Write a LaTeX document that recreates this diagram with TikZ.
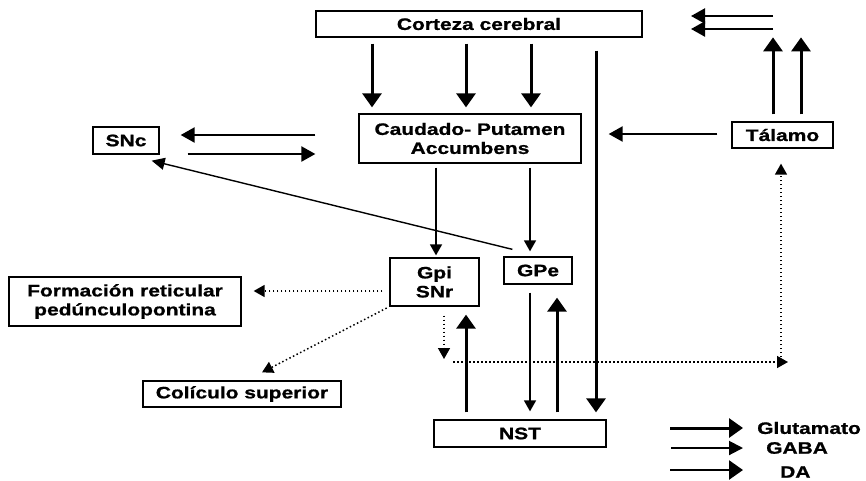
\documentclass[tikz,border=0pt]{standalone}
\usepackage{fontspec}
\setmainfont{Liberation Sans}[FakeStretch=1.27]
\newfontfamily\heavy{Liberation Sans Bold}[FakeStretch=1.27,FakeBold=1]
\usetikzlibrary{arrows.meta}
\begin{document}
\begin{tikzpicture}[x=1pt,y=-1pt,
  box/.style={draw, line width=1.3pt, inner sep=0pt, align=center,
    font=\fontsize{16.5}{19}\selectfont\heavy},
  lbl/.style={inner sep=0pt, anchor=west, font=\fontsize{16.5}{19}\selectfont\heavy},
  glu/.style={line width=3pt, -{Triangle[width=19pt,length=14pt]}},
  gaba/.style={line width=1.6pt, -{Triangle[width=12pt,length=11pt]}},
  da/.style={line width=2.3pt, -{Triangle[width=15pt,length=14pt]}},
  proj/.style={line width=1.5pt, dash pattern=on 1.5pt off 2.5pt,
    -{Triangle[width=12pt,length=11pt]}},
]
\useasboundingbox (0,0) rectangle (866,480);

% structures
\node[box, minimum width=326pt, minimum height=26pt] (cort) at (479,24) {Corteza cerebral};
\node[box, minimum width=222pt, minimum height=49pt] (caud) at (470,138.5) {Caudado- Putamen\\Accumbens};
\node[box, minimum width=66pt, minimum height=27pt] (snc) at (126,140.5) {SNc};
\node[box, minimum width=101pt, minimum height=26pt] (tal) at (782.5,135) {Tálamo};
\node[box, minimum width=89pt, minimum height=48pt] (gpi) at (434.5,282) {Gpi\\SNr};
\node[box, minimum width=68pt, minimum height=27pt] (gpe) at (538,270.5) {GPe};
\node[box, minimum width=172pt, minimum height=27pt] (nst) at (520,433.5) {NST};
\node[box, minimum width=232pt, minimum height=49pt] (form) at (125,301.5) {Formación reticular\\pedúnculopontina};
\node[box, minimum width=198pt, minimum height=26pt] (coli) at (242,394) {Colículo superior};

% cortex to striatum and to NST
\foreach \dx in {-107,-13,52}
  \draw[glu, shorten <=6pt, shorten >=6pt] ([xshift=\dx pt]cort.south) -- ([xshift=\dx pt]cort.south |- caud.north);
\draw[glu, shorten <=13pt, shorten >=7pt] ([xshift=117pt]cort.south) -- ([xshift=117pt]cort.south |- nst.north);

% thalamus back to cortex
\coordinate (c1s) at (773,16);
\coordinate (c1e) at (691,16);
\coordinate (c2s) at (773,29);
\coordinate (c2e) at (691,29);
\draw[da] (c1s) -- (c1e);
\draw[da] (c2s) -- (c2e);
\draw[glu, shorten <=7pt] ([xshift=-9.5pt]tal.north) -- ++(0,-84);
\draw[glu, shorten <=7pt] ([xshift=18.5pt]tal.north) -- ++(0,-84);

% thalamus to striatum
\draw[da, shorten <=14pt, shorten >=27pt] ([yshift=1pt]tal.west) -- ([yshift=1pt]tal.west -| caud.east);

% striatum and SNc
\draw[da, shorten <=43pt, shorten >=21pt] ([yshift=3.5pt]caud.west) -- ([yshift=3.5pt]caud.west -| snc.east);
\draw[da, shorten <=28pt, shorten >=43pt] ([yshift=-13.5pt]snc.east) -- ([yshift=-13.5pt]snc.east -| caud.west);
\draw[line width=1.4pt, -{Triangle[width=12pt,length=13pt]}] ([xshift=9pt,yshift=7pt]gpe.north west) -- ([xshift=-8pt,yshift=-6pt]snc.south east);

% striatum to pallidum
\draw[gaba, shorten <=4pt, shorten >=2pt] ([xshift=1.5pt]gpi.north |- caud.south) -- ([xshift=1.5pt]gpi.north);
\draw[gaba, shorten <=4pt, shorten >=5pt] ([xshift=-8pt]gpe.north |- caud.south) -- ([xshift=-8pt]gpe.north);

% pallidum and NST
\draw[gaba, shorten <=8pt, shorten >=8pt] ([xshift=-8pt]gpe.south) -- ([xshift=-8pt]gpe.south |- nst.north);
\draw[glu, shorten <=7pt, shorten >=13pt] ([xshift=19pt]gpe.south |- nst.north) -- ([xshift=19pt]gpe.south);
\draw[glu, shorten <=7pt, shorten >=8pt] ([xshift=31.5pt]gpi.south |- nst.north) -- ([xshift=31.5pt]gpi.south);

% GPi / SNr outputs
\coordinate (jn) at (444,362);
\coordinate (cn) at (788,362);
\draw[proj, shorten <=9pt, shorten >=3pt] ([xshift=9.5pt]gpi.south) -- (jn);
\draw[proj, shorten <=9pt] (jn) -- (cn);
\draw[proj, shorten <=5pt, shorten >=15pt] ([xshift=-1.5pt]tal.south |- cn) -- ([xshift=-1.5pt]tal.south);
\draw[proj, shorten <=7pt, shorten >=12pt] ([yshift=-9pt]gpi.west) -- ([yshift=-9pt]gpi.west -| form.east);
\draw[proj, shorten <=3pt] (gpi.south west) -- ([xshift=20pt,yshift=8pt]coli.north);

% legend
\node[lbl] (lglu) at (757,428) {Glutamato};
\node[lbl] (lgaba) at (766,448) {GABA};
\node[lbl] (lda) at (780,472) {DA};
\coordinate (k1) at (670,428);
\coordinate (k2) at (671,448);
\coordinate (k3) at (670,470);
\draw[glu, shorten >=14pt] (k1) -- (lglu.west);
\draw[line width=2pt, -{Triangle[width=14pt,length=14pt]}, shorten >=23pt] (k2) -- (k2 -| lgaba.west);
\draw[glu, line width=2.6pt, shorten >=37pt] (k3) -- (k3 -| lda.west);
\end{tikzpicture}
\end{document}
